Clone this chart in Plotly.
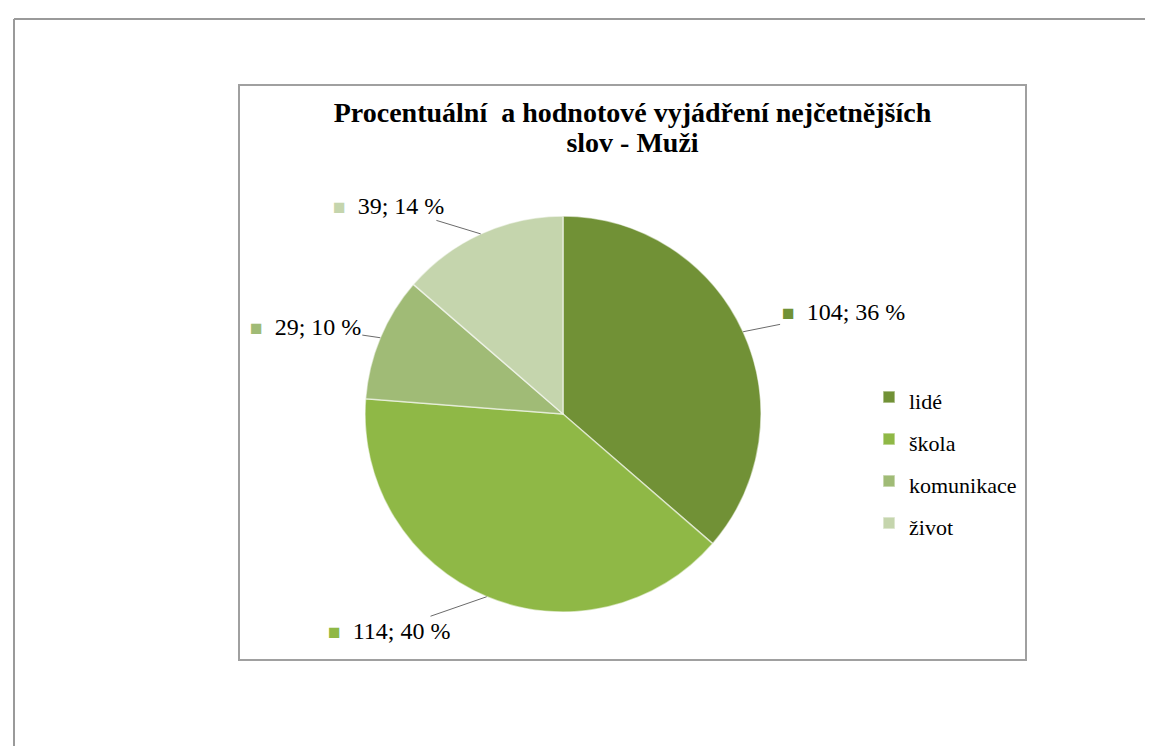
"""
Pie chart: most frequent words - men (value and percentage)
"""

import math
import plotly.graph_objects as go

# Data
categories = ["lidé", "škola", "komunikace", "život"]
counts = [104, 114, 29, 39]
colors = ["#719136", "#8FB846", "#A0BB76", "#C5D5AD"]

title_lines = ["Procentuální\u00a0 a hodnotové vyjádření nejčetnějších", "slov - Muži"]

# Page geometry (px)
W, H = 1153, 746
PIE_CX, PIE_CY, PIE_R = 555, 406, 198
# label text offsets from the slice edge (px)
label_offsets = [(100, -20), (-98, 34), (-75, -11), (-92, -28)]

def px(x):
    return x / W

def py(y):
    return 1 - y / H

total = sum(counts)
pcts = [round(c / total * 100) for c in counts]

fig = go.Figure()

fig.add_trace(go.Pie(
    labels=[f'<span style="font-size:22px">{c}</span>' for c in categories],
    values=counts,
    sort=False,
    direction='clockwise',
    rotation=0,
    textinfo='none',
    marker=dict(colors=colors, line=dict(color='rgba(255,255,255,0.55)', width=1.5)),
    domain=dict(x=[px(PIE_CX - PIE_R), px(PIE_CX + PIE_R)],
                y=[py(PIE_CY + PIE_R), py(PIE_CY - PIE_R)]),
    hovertemplate='%{label}: %{value} (%{percent})<extra></extra>',
))

# Data labels with leader lines, anchored at each slice's outer edge
annotations = []
cum = 0
for cnt, pct, col, (ox, oy) in zip(counts, pcts, colors, label_offsets):
    mid = (cum + cnt / 2) / total * 2 * math.pi
    cum += cnt
    ex = PIE_CX + PIE_R * math.sin(mid)
    ey = PIE_CY - PIE_R * math.cos(mid)
    annotations.append(dict(
        x=px(ex), y=py(ey), xref='paper', yref='paper',
        text=f'<span style="font-size:21px;color:{col}">■</span>\u00a0 {cnt}; {pct} %',
        showarrow=True, arrowhead=0, arrowwidth=1, arrowcolor='#6b6b6b',
        ax=ox, ay=oy, standoff=0,
        font=dict(family='Liberation Serif', size=24, color='black'),
    ))

# Page border (top + left) and chart frame
shapes = [
    dict(type='line', xref='paper', yref='paper', x0=px(6), y0=py(11), x1=1, y1=py(11),
         line=dict(color='#9a9a9a', width=2)),
    dict(type='line', xref='paper', yref='paper', x0=px(6), y0=py(11), x1=px(6), y1=0,
         line=dict(color='#9a9a9a', width=2)),
    dict(type='rect', xref='paper', yref='paper', x0=px(231), y0=py(652), x1=px(1018), y1=py(77),
         line=dict(color='#a0a0a0', width=2), layer='below'),
]

title_text = "<br>".join(f'<span style="font-size:28px">{t}</span>' for t in title_lines)

fig.update_layout(
    width=W, height=H, autosize=False,
    margin=dict(l=0, r=0, t=0, b=0),
    paper_bgcolor='white', plot_bgcolor='white',
    title=dict(text=title_text, x=px(624.5), xanchor='center', xref='paper',
               y=py(114), yanchor='top', yref='paper',
               font=dict(family='Liberation Serif', size=23, color='black', weight='bold')),
    showlegend=True,
    legend=dict(x=px(861), xanchor='left', y=py(363), yanchor='top',
                font=dict(family='Liberation Serif', size=30, color='black'),
                bgcolor='rgba(0,0,0,0)', traceorder='normal'),
    annotations=annotations,
    shapes=shapes,
)

fig.write_html("out.html")
